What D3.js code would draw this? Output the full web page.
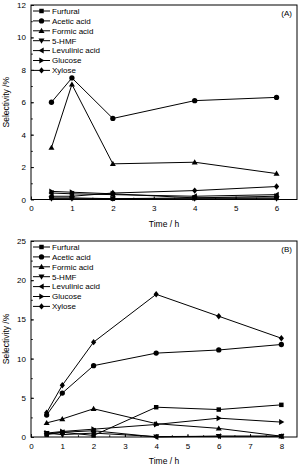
<!DOCTYPE html>
<html>
<head>
<meta charset="utf-8">
<script src="https://cdn.jsdelivr.net/npm/d3@7"></script>
<style>
  body { margin: 0; background: #fff; }
  text { font-family: "Liberation Sans", Arial, sans-serif; fill: #000; }
</style>
</head>
<body>
<svg id="vis" width="300" height="468"></svg>
<script>
// series names, same order in both panels
var names = ["Furfural", "Acetic acid", "Formic acid", "5-HMF", "Levulinic acid", "Glucose", "Xylose"];
var symbols = ["square", "circle", "up", "down", "left", "right", "diamond"];

// panel A
var timesA = [0.5, 1, 2, 4, 6];
var furfuralA = [0.1, 0.1, 0.05, 0.1, 0.1];
var aceticA = [6.0, 7.5, 5.0, 6.1, 6.3];
var formicA = [3.2, 7.1, 2.2, 2.3, 1.6];
var hmfA = [0.05, 0.05, 0.05, 0.05, 0.05];
var levulinicA = [0.4, 0.35, 0.3, 0.2, 0.3];
var glucoseA = [0.5, 0.45, 0.35, 0.1, 0.2];
var xyloseA = [0.2, 0.2, 0.4, 0.55, 0.8];

// panel B
var timesB = [0.5, 1, 2, 4, 6, 8];
var furfuralB = [0.3, 0.6, 0.2, 3.8, 3.5, 4.1];
var aceticB = [2.8, 5.6, 9.1, 10.7, 11.1, 11.8];
var formicB = [1.8, 2.3, 3.6, 1.7, 1.1, 0.1];
var hmfB = [0.5, 0.3, 0.5, 0.05, 0.1, 0.1];
var levulinicB = [0.4, 0.6, 0.8, 0.0, 0.1, 0.1];
var glucoseB = [0.5, 0.7, 1.0, 1.6, 2.4, 1.9];
var xyloseB = [3.1, 6.6, 12.1, 18.2, 15.4, 12.6];

var xTicksA = [0, 1, 2, 3, 4, 5, 6];
var yTicksA = [0, 2, 4, 6, 8, 10, 12];
var xTicksB = [0, 1, 2, 3, 4, 5, 6, 7, 8];
var yTicksB = [0, 5, 10, 15, 20, 25];

var vis = d3.select("#vis");

// marker path for each symbol, centred on 0,0
function marker(s) {
  var r = 2.6;
  if (s == "square") return d3.symbol(d3.symbolSquare, 20)();
  if (s == "circle") return d3.symbol(d3.symbolCircle, 22)();
  if (s == "diamond") return "M0," + (-r - 0.6) + "L" + r + ",0L0," + (r + 0.6) + "L" + (-r) + ",0Z";
  if (s == "up") return "M0," + (-r - 0.4) + "L" + (r + 0.4) + "," + (r - 0.4) + "L" + (-r - 0.4) + "," + (r - 0.4) + "Z";
  if (s == "down") return "M0," + (r + 0.4) + "L" + (r + 0.4) + "," + (-r + 0.4) + "L" + (-r - 0.4) + "," + (-r + 0.4) + "Z";
  if (s == "left") return "M" + (-r - 0.4) + ",0L" + (r - 0.4) + "," + (-r - 0.4) + "L" + (r - 0.4) + "," + (r + 0.4) + "Z";
  if (s == "right") return "M" + (r + 0.4) + ",0L" + (-r + 0.4) + "," + (-r - 0.4) + "L" + (-r + 0.4) + "," + (r + 0.4) + "Z";
}

function panel(o) {
  var x = d3.scaleLinear().domain([0, o.xMax]).range([31, 297]);
  var y = d3.scaleLinear().domain([0, o.yMax]).range([o.bottom, o.top]);
  var g = vis.append("g");

  //minor ticks
  var xMinor = d3.range(0.5, o.xMax, 0.5);
  var yMinor = d3.range(o.yStep / 2, o.yMax, o.yStep / 2);

  var xAxis = d3.axisBottom(x).tickValues(o.xTicks).tickSize(-3).tickPadding(6).tickFormat(d3.format("d"));
  var xg = g.append("g").attr("transform", "translate(0," + o.bottom + ")").call(xAxis);
  var xm = g.append("g").attr("transform", "translate(0," + o.bottom + ")")
    .call(d3.axisBottom(x).tickValues(xMinor).tickSize(-1.8).tickFormat(""));
  var yAxis = d3.axisLeft(y).tickValues(o.yTicks).tickSize(-3).tickPadding(5).tickFormat(d3.format("d"));
  var yg = g.append("g").attr("transform", "translate(31,0)").call(yAxis);
  var ym = g.append("g").attr("transform", "translate(31,0)")
    .call(d3.axisLeft(y).tickValues(yMinor).tickSize(-1.8).tickFormat(""));
  [xg, xm, yg, ym].forEach(function(a) {
    a.select(".domain").remove();
    a.selectAll("text").style("font-size", "8px").style("font-family", "Liberation Sans, Arial, sans-serif");
    a.selectAll("line").attr("stroke", "#000").attr("stroke-width", 0.9);
  });

  //frame
  g.append("rect").attr("x", 31).attr("y", o.top).attr("width", 266).attr("height", o.bottom - o.top)
    .attr("fill", "none").attr("stroke", "#000").attr("stroke-width", 1);

  var line = d3.line().x(function(d) { return x(d.t); }).y(function(d) { return y(d.v); });

  for (var i = 0; i < o.series.length; i++) {
    var pts = o.times.map(function(t, j) { return {t: t, v: o.series[i][j]}; });
    g.append("path").attr("d", line(pts)).attr("fill", "none").attr("stroke", "#000").attr("stroke-width", 1);
    g.selectAll(".m" + i).data(pts).enter().append("path")
      .attr("transform", function(d) { return "translate(" + x(d.t) + "," + y(d.v) + ")"; })
      .attr("d", marker(symbols[i])).attr("fill", "#000");
  }

  // legend
  for (var k = 0; k < names.length; k++) {
    var ly = o.top + 6 + k * 9.9;
    g.append("line").attr("x1", 33).attr("x2", 50).attr("y1", ly).attr("y2", ly)
      .attr("stroke", "#000").attr("stroke-width", 1);
    g.append("path").attr("transform", "translate(41.5," + ly + ")").attr("d", marker(symbols[k])).attr("fill", "#000");
    g.append("text").attr("x", 52).attr("y", ly + 2.8).style("font-size", "8px").text(names[k]);
  }

  g.append("text").attr("x", 292).attr("y", o.top + 11).attr("text-anchor", "end")
    .style("font-size", "8px").text(o.label);

  g.append("text").attr("x", 164).attr("y", o.bottom + 27).attr("text-anchor", "middle")
    .style("font-size", "8.5px").text("Time / h");
  g.append("text").attr("transform", "rotate(-90)")
    .attr("x", -(o.top + o.bottom) / 2).attr("y", 9).attr("text-anchor", "middle")
    .style("font-size", "8.5px").text("Selectivity /%");
}

panel({label: "(A)", top: 5, bottom: 199.5, xMax: 6.5, yMax: 12, yStep: 2,
  xTicks: xTicksA, yTicks: yTicksA, times: timesA,
  series: [furfuralA, aceticA, formicA, hmfA, levulinicA, glucoseA, xyloseA]});

panel({label: "(B)", top: 241, bottom: 437, xMax: 8.5, yMax: 25, yStep: 5,
  xTicks: xTicksB, yTicks: yTicksB, times: timesB,
  series: [furfuralB, aceticB, formicB, hmfB, levulinicB, glucoseB, xyloseB]});
</script>
</body>
</html>
